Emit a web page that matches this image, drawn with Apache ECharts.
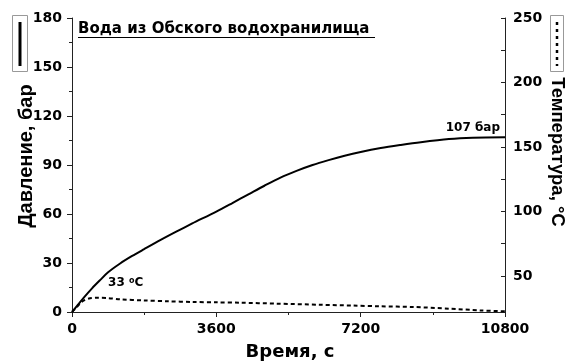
<!DOCTYPE html>
<html>
<head>
<meta charset="utf-8">
<script src="https://cdn.jsdelivr.net/npm/echarts@6/dist/echarts.min.js"></script>
<style>
  html, body { margin: 0; padding: 0; background: #fff; }
  #chart { width: 571px; height: 363px; }
</style>
</head>
<body>
<div id="chart"></div>
<script>
// Pressure over time, bar
const pressure = [
  [0, 0], [150, 4.5], [300, 9], [500, 14.5], [700, 19.5], [900, 24.3], [1200, 29.7],
  [1500, 34.3], [1800, 38.5], [2200, 44], [2600, 49.2], [3000, 54.2], [3600, 61.5],
  [4000, 66.7], [4400, 72], [4800, 77.3], [5200, 82.3], [5600, 86.4], [6000, 90],
  [6400, 93], [6800, 95.7], [7200, 98], [7700, 100.4], [8200, 102.3], [8700, 104],
  [9400, 105.9], [10000, 106.7], [10800, 107]
];
// Temperature over time, °C
const temperature = [
  [0, 22], [100, 25], [200, 28.5], [300, 31], [450, 32.6], [650, 33], [900, 32.8],
  [1200, 31.8], [1800, 31], [2400, 30.3], [3000, 29.8], [3600, 29.5], [4200, 29.2],
  [5100, 28.5], [6200, 27.6], [7000, 27], [7700, 26.4], [8500, 25.9], [9400, 24.6],
  [10200, 23.2], [10800, 22.5]
];
const timeTicks = [0, 3600, 7200, 10800];
const pressureTicks = [0, 30, 60, 90, 120, 150, 180];
const tempTicks = [50, 100, 150, 200, 250];
const tempMinorTicks = [50, 75, 100, 125, 150, 175, 200, 225, 250];

const pressureEnd = pressure[pressure.length - 1];
const tempPeak = temperature.reduce((a, b) => (b[1] > a[1] ? b : a));

const axisColor = '#222';
const tickFont = {
  fontFamily: 'DejaVu Sans', fontWeight: 'bold', fontSize: 14, color: '#000',
  formatter: (v) => String(v)
};

const chart = echarts.init(document.getElementById('chart'), null, { renderer: 'canvas' });
chart.setOption({
  animation: false,
  grid: { left: 72, right: 66, top: 18, bottom: 51 },
  xAxis: {
    type: 'value',
    min: timeTicks[0],
    max: timeTicks[timeTicks.length - 1],
    interval: 3600,
    axisLine: { show: true, lineStyle: { color: axisColor, width: 1 } },
    axisTick: { show: true, inside: false, length: 5, lineStyle: { color: axisColor } },
    minorTick: { show: true, splitNumber: 2, length: 3, lineStyle: { color: axisColor } },
    splitLine: { show: false },
    axisLabel: Object.assign({ margin: 10 }, tickFont)
  },
  yAxis: [
    {
      type: 'value',
      min: pressureTicks[0],
      max: pressureTicks[pressureTicks.length - 1],
      interval: 30,
      axisLine: { show: true, lineStyle: { color: axisColor, width: 1 } },
      axisTick: { show: true, inside: false, length: 5, lineStyle: { color: axisColor } },
      minorTick: { show: true, splitNumber: 2, length: 3, lineStyle: { color: axisColor } },
      splitLine: { show: false },
      axisLabel: Object.assign({ margin: 10 }, tickFont)
    },
    {
      type: 'value',
      position: 'right',
      min: 22,
      max: 250,
      axisLine: { show: true, lineStyle: { color: axisColor, width: 1 } },
      axisTick: { show: true, inside: true, length: 4, customValues: tempMinorTicks, lineStyle: { color: axisColor } },
      splitLine: { show: false },
      axisLabel: Object.assign({ margin: 8, customValues: tempTicks }, tickFont)
    }
  ],
  series: [
    {
      name: 'Давление',
      type: 'line',
      yAxisIndex: 0,
      data: pressure,
      showSymbol: false,
      smooth: 0.3,
      lineStyle: { color: '#000', width: 2 },
      markPoint: {
        symbol: 'circle',
        symbolSize: 0,
        data: [{ coord: pressureEnd, value: pressureEnd[1] }],
        label: {
          show: true,
          position: 'top',
          distance: 3,
          align: 'right',
          offset: [-5, 0],
          formatter: (p) => p.value + ' бар',
          fontFamily: 'DejaVu Sans', fontWeight: 'bold', fontSize: 12, color: '#000'
        }
      }
    },
    {
      name: 'Температура',
      type: 'line',
      yAxisIndex: 1,
      data: temperature,
      showSymbol: false,
      smooth: 0.3,
      lineStyle: { color: '#000', width: 2, type: [4, 3] },
      markPoint: {
        symbol: 'circle',
        symbolSize: 0,
        data: [{ coord: tempPeak, value: tempPeak[1] }],
        label: {
          show: true,
          position: 'top',
          distance: 8,
          align: 'left',
          offset: [10, 0],
          formatter: (p) => '{n|' + p.value + ' }{s|o}{n|C}',
          rich: {
            n: { fontFamily: 'DejaVu Sans', fontWeight: 'bold', fontSize: 12, color: '#000' },
            s: { fontFamily: 'DejaVu Sans', fontWeight: 'bold', fontSize: 8, color: '#000', verticalAlign: 'top', padding: [0, 0, 5, 0] }
          }
        }
      }
    }
  ],
  graphic: [
    // plot title
    {
      type: 'text', left: 78, top: 22,
      style: { text: 'Вода из Обского водохранилища', fontFamily: 'DejaVu Sans', fontWeight: 'bold', fontSize: 15, fill: '#000' }
    },
    { type: 'line', shape: { x1: 78, y1: 37.5, x2: 375, y2: 37.5 }, style: { stroke: '#000', lineWidth: 1.2 } },
    // axis names
    {
      type: 'text', x: 26, y: 156, rotation: Math.PI / 2,
      style: { text: 'Давление, бар', fontFamily: 'Liberation Sans', fontWeight: 'bold', fontSize: 20, fill: '#000', align: 'center', verticalAlign: 'middle' }
    },
    {
      type: 'text', x: 557, y: 152, rotation: -Math.PI / 2,
      style: { text: 'Температура, °C', fontFamily: 'Liberation Sans', fontWeight: 'bold', fontSize: 18.5, fill: '#000', align: 'center', verticalAlign: 'middle' }
    },
    {
      type: 'text', x: 290, y: 352,
      style: { text: 'Время, с', fontFamily: 'DejaVu Sans', fontWeight: 'bold', fontSize: 18, fill: '#000', align: 'center', verticalAlign: 'middle' }
    },
    // series keys
    { type: 'rect', shape: { x: 12.5, y: 15.5, width: 15, height: 56 }, style: { fill: 'none', stroke: '#999', lineWidth: 1 } },
    { type: 'line', shape: { x1: 20, y1: 22, x2: 20, y2: 66 }, style: { stroke: '#000', lineWidth: 3 } },
    { type: 'rect', shape: { x: 550.5, y: 15.5, width: 13, height: 56 }, style: { fill: 'none', stroke: '#999', lineWidth: 1 } },
    { type: 'line', shape: { x1: 557, y1: 22, x2: 557, y2: 66 }, style: { stroke: '#000', lineWidth: 2.5, lineDash: [3, 4] } }
  ]
});
</script>
</body>
</html>
